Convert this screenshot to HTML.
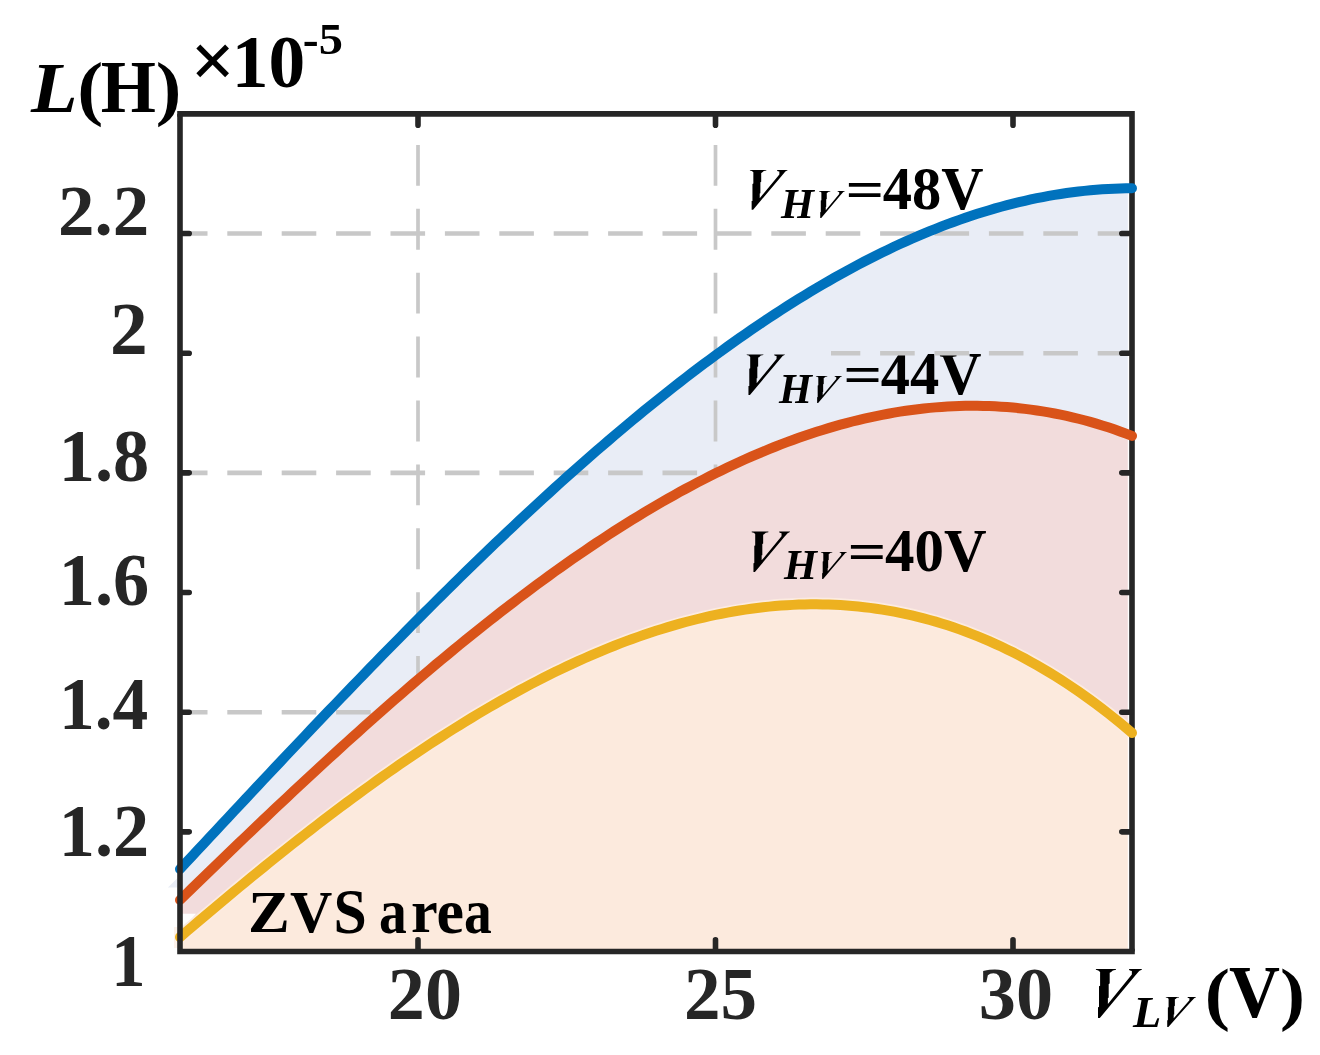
<!DOCTYPE html>
<html><head><meta charset="utf-8"><style>
html,body{margin:0;padding:0;background:#fff;}
svg{display:block;will-change:transform;}
text{font-family:"Liberation Serif", serif;opacity:0.999;}
</style></head><body>
<svg width="1320" height="1055" viewBox="0 0 1320 1055">
<rect width="1320" height="1055" fill="#fff"/>
<clipPath id="cf"><rect x="0" y="0" width="1127.8" height="1055"/></clipPath>
<path d="M180.00,869.07 L185.95,862.69 L191.90,856.30 L197.85,849.92 L203.80,843.55 L209.75,837.17 L215.70,830.79 L221.65,824.42 L227.60,818.06 L233.55,811.69 L239.50,805.33 L245.45,798.98 L251.40,792.63 L257.35,786.29 L263.30,779.95 L269.25,773.62 L275.20,767.30 L281.15,760.98 L287.10,754.68 L293.05,748.38 L299.00,742.10 L304.95,735.82 L310.90,729.55 L316.85,723.30 L322.80,717.05 L328.75,710.82 L334.70,704.60 L340.65,698.39 L346.60,692.20 L352.55,686.02 L358.50,679.86 L364.45,673.71 L370.40,667.57 L376.35,661.45 L382.30,655.35 L388.25,649.27 L394.20,643.20 L400.15,637.15 L406.10,631.12 L412.05,625.10 L418.00,619.11 L423.95,613.14 L429.90,607.19 L435.85,601.25 L441.80,595.34 L447.75,589.46 L453.70,583.59 L459.65,577.75 L465.60,571.93 L471.55,566.13 L477.50,560.36 L483.45,554.62 L489.40,548.89 L495.35,543.20 L501.30,537.53 L507.25,531.89 L513.20,526.28 L519.15,520.69 L525.10,515.13 L531.05,509.60 L537.00,504.10 L542.95,498.64 L548.90,493.20 L554.85,487.79 L560.80,482.41 L566.75,477.07 L572.70,471.75 L578.65,466.48 L584.60,461.23 L590.55,456.02 L596.50,450.84 L602.45,445.70 L608.40,440.59 L614.35,435.52 L620.30,430.48 L626.25,425.48 L632.20,420.52 L638.15,415.60 L644.10,410.72 L650.05,405.87 L656.00,401.06 L661.95,396.30 L667.90,391.57 L673.85,386.89 L679.80,382.24 L685.75,377.64 L691.70,373.08 L697.65,368.56 L703.60,364.09 L709.55,359.66 L715.50,355.28 L721.45,350.94 L727.40,346.64 L733.35,342.39 L739.30,338.19 L745.25,334.04 L751.20,329.93 L757.15,325.87 L763.10,321.86 L769.05,317.89 L775.00,313.98 L780.95,310.11 L786.90,306.30 L792.85,302.54 L798.80,298.83 L804.75,295.17 L810.70,291.56 L816.65,288.01 L822.60,284.50 L828.55,281.06 L834.50,277.66 L840.45,274.33 L846.40,271.04 L852.35,267.82 L858.30,264.65 L864.25,261.53 L870.20,258.48 L876.15,255.48 L882.10,252.54 L888.05,249.66 L894.00,246.84 L899.95,244.07 L905.90,241.37 L911.85,238.73 L917.80,236.15 L923.75,233.63 L929.70,231.18 L935.65,228.79 L941.60,226.46 L947.55,224.19 L953.50,221.99 L959.45,219.85 L965.40,217.78 L971.35,215.78 L977.30,213.84 L983.25,211.97 L989.20,210.16 L995.15,208.42 L1001.10,206.76 L1007.05,205.16 L1013.00,203.62 L1018.95,202.16 L1024.90,200.77 L1030.85,199.45 L1036.80,198.21 L1042.75,197.03 L1048.70,195.92 L1054.65,194.89 L1060.60,193.94 L1066.55,193.05 L1072.50,192.24 L1078.45,191.51 L1084.40,190.85 L1090.35,190.26 L1096.30,189.75 L1102.25,189.32 L1108.20,188.97 L1114.15,188.69 L1120.10,188.49 L1126.05,188.37 L1132.00,188.34 L1132.00,435.87 L1126.05,433.60 L1120.10,431.42 L1114.15,429.33 L1108.20,427.34 L1102.25,425.44 L1096.30,423.63 L1090.35,421.91 L1084.40,420.28 L1078.45,418.74 L1072.50,417.29 L1066.55,415.93 L1060.60,414.66 L1054.65,413.47 L1048.70,412.38 L1042.75,411.36 L1036.80,410.44 L1030.85,409.60 L1024.90,408.85 L1018.95,408.18 L1013.00,407.59 L1007.05,407.09 L1001.10,406.67 L995.15,406.33 L989.20,406.08 L983.25,405.90 L977.30,405.81 L971.35,405.80 L965.40,405.86 L959.45,406.01 L953.50,406.23 L947.55,406.53 L941.60,406.91 L935.65,407.37 L929.70,407.90 L923.75,408.51 L917.80,409.19 L911.85,409.95 L905.90,410.78 L899.95,411.69 L894.00,412.67 L888.05,413.72 L882.10,414.84 L876.15,416.04 L870.20,417.30 L864.25,418.64 L858.30,420.04 L852.35,421.52 L846.40,423.06 L840.45,424.68 L834.50,426.36 L828.55,428.10 L822.60,429.92 L816.65,431.80 L810.70,433.74 L804.75,435.75 L798.80,437.82 L792.85,439.96 L786.90,442.16 L780.95,444.43 L775.00,446.75 L769.05,449.14 L763.10,451.59 L757.15,454.10 L751.20,456.67 L745.25,459.30 L739.30,461.98 L733.35,464.73 L727.40,467.53 L721.45,470.40 L715.50,473.31 L709.55,476.29 L703.60,479.32 L697.65,482.40 L691.70,485.54 L685.75,488.74 L679.80,491.98 L673.85,495.28 L667.90,498.63 L661.95,502.04 L656.00,505.49 L650.05,509.00 L644.10,512.56 L638.15,516.16 L632.20,519.82 L626.25,523.52 L620.30,527.27 L614.35,531.07 L608.40,534.92 L602.45,538.81 L596.50,542.75 L590.55,546.74 L584.60,550.77 L578.65,554.84 L572.70,558.96 L566.75,563.11 L560.80,567.32 L554.85,571.56 L548.90,575.85 L542.95,580.18 L537.00,584.54 L531.05,588.95 L525.10,593.40 L519.15,597.88 L513.20,602.41 L507.25,606.97 L501.30,611.57 L495.35,616.20 L489.40,620.87 L483.45,625.58 L477.50,630.32 L471.55,635.10 L465.60,639.91 L459.65,644.75 L453.70,649.63 L447.75,654.54 L441.80,659.48 L435.85,664.45 L429.90,669.45 L423.95,674.48 L418.00,679.55 L412.05,684.64 L406.10,689.76 L400.15,694.90 L394.20,700.08 L388.25,705.28 L382.30,710.51 L376.35,715.76 L370.40,721.04 L364.45,726.34 L358.50,731.67 L352.55,737.02 L346.60,742.40 L340.65,747.79 L334.70,753.21 L328.75,758.65 L322.80,764.11 L316.85,769.59 L310.90,775.09 L304.95,780.61 L299.00,786.15 L293.05,791.71 L287.10,797.28 L281.15,802.87 L275.20,808.48 L269.25,814.11 L263.30,819.75 L257.35,825.40 L251.40,831.07 L245.45,836.75 L239.50,842.45 L233.55,848.15 L227.60,853.87 L221.65,859.61 L215.70,865.35 L209.75,871.10 L203.80,876.87 L197.85,882.64 L191.90,888.42 L185.95,894.21 L180.00,900.01 Z" fill="#e9edf6" clip-path="url(#cf)"/>
<path d="M749.92,170.00 L766.36,170.00 L766.36,170.57 L763.82,171.06 L762.10,172.61 L761.20,173.02 L761.20,181.74 L760.39,182.15 L760.39,193.24 L759.73,193.41 L759.73,198.30 L779.36,174.49 L779.36,171.55 L777.72,171.22 L777.07,170.57 L777.07,170.00 L787.62,170.00 L787.62,170.33 L785.33,171.55 L781.81,175.63 L753.11,209.80 L751.64,209.80 L751.64,201.07 L752.45,200.91 L752.45,184.03 L753.35,183.62 L753.35,172.37 L751.88,171.06 L749.92,170.57 Z" fill="#000"/>
<text id="t25" transform="matrix(1.03333 0 0 1.04231 780.900 218.100)" x="0" y="0" font-size="41" font-weight="bold" font-style="italic" fill="#000">H</text>
<path d="M819.04,191.00 L830.29,191.00 L830.29,191.39 L828.56,191.72 L827.38,192.78 L826.77,193.05 L826.77,199.00 L826.21,199.27 L826.21,206.83 L825.76,206.94 L825.76,210.27 L839.19,194.05 L839.19,192.06 L838.07,191.83 L837.62,191.39 L837.62,191.00 L844.84,191.00 L844.84,191.22 L843.28,192.06 L840.87,194.83 L821.23,218.10 L820.22,218.10 L820.22,212.16 L820.78,212.05 L820.78,200.55 L821.39,200.27 L821.39,192.61 L820.39,191.72 L819.04,191.39 Z" fill="#000"/>
<text id="t27" transform="matrix(1.15185 0 0 0.88750 845.444 206.663)" x="0" y="0" font-size="59" font-weight="bold" font-style="normal" fill="#000">=</text>
<text id="t28" transform="matrix(0.99200 0 0 1.02250 882.808 208.778)" x="0" y="0" font-size="59" font-weight="bold" font-style="normal" fill="#000">48V</text>
<path d="M746.72,354.50 L763.37,354.50 L763.37,355.08 L760.80,355.58 L759.06,357.16 L758.15,357.57 L758.15,366.45 L757.32,366.87 L757.32,378.15 L756.66,378.32 L756.66,383.30 L776.55,359.06 L776.55,356.08 L774.89,355.74 L774.23,355.08 L774.23,354.50 L784.92,354.50 L784.92,354.83 L782.60,356.08 L779.03,360.23 L749.95,395.00 L748.46,395.00 L748.46,386.12 L749.29,385.95 L749.29,368.77 L750.20,368.36 L750.20,356.91 L748.71,355.58 L746.72,355.08 Z" fill="#000"/>
<text id="t30" transform="matrix(1.03333 0 0 1.04231 778.900 403.100)" x="0" y="0" font-size="41" font-weight="bold" font-style="italic" fill="#000">H</text>
<path d="M815.94,376.00 L827.28,376.00 L827.28,376.39 L825.53,376.72 L824.35,377.78 L823.73,378.05 L823.73,384.00 L823.16,384.27 L823.16,391.83 L822.71,391.94 L822.71,395.27 L836.25,379.05 L836.25,377.06 L835.12,376.83 L834.67,376.39 L834.67,376.00 L841.94,376.00 L841.94,376.22 L840.36,377.06 L837.94,379.83 L818.14,403.10 L817.13,403.10 L817.13,397.16 L817.69,397.05 L817.69,385.55 L818.31,385.27 L818.31,377.61 L817.30,376.72 L815.94,376.39 Z" fill="#000"/>
<text id="t32" transform="matrix(1.15926 0 0 0.88750 843.322 391.662)" x="0" y="0" font-size="59" font-weight="bold" font-style="normal" fill="#000">=</text>
<text id="t33" transform="matrix(0.99100 0 0 1.02250 880.809 393.778)" x="0" y="0" font-size="59" font-weight="bold" font-style="normal" fill="#000">44V</text>
<clipPath id="c20"><rect x="831" y="340" width="310" height="30"/></clipPath>
<line x1="180" y1="233.54" x2="1132" y2="233.54" stroke="#c8c8c8" stroke-width="4.6" stroke-dasharray="34.6 19.8" stroke-dashoffset="7.1"/>
<line x1="180" y1="353.20" x2="1132" y2="353.20" stroke="#c8c8c8" stroke-width="4.6" stroke-dasharray="34.6 19.8" stroke-dashoffset="7.1" clip-path="url(#c20)"/>
<line x1="180" y1="472.86" x2="1132" y2="472.86" stroke="#c8c8c8" stroke-width="4.6" stroke-dasharray="34.6 19.8" stroke-dashoffset="7.1"/>
<line x1="180" y1="712.18" x2="1132" y2="712.18" stroke="#c8c8c8" stroke-width="4.6" stroke-dasharray="34.6 19.8" stroke-dashoffset="7.1"/>
<line x1="418.00" y1="113.9" x2="418.00" y2="951.5" stroke="#c8c8c8" stroke-width="3.7" stroke-dasharray="40.9 23.0" stroke-dashoffset="32.9"/>
<line x1="715.50" y1="113.9" x2="715.50" y2="951.5" stroke="#c8c8c8" stroke-width="3.7" stroke-dasharray="40.9 23.0" stroke-dashoffset="32.9"/>
<path d="M180.00,900.01 L185.95,894.21 L191.90,888.42 L197.85,882.64 L203.80,876.87 L209.75,871.10 L215.70,865.35 L221.65,859.61 L227.60,853.87 L233.55,848.15 L239.50,842.45 L245.45,836.75 L251.40,831.07 L257.35,825.40 L263.30,819.75 L269.25,814.11 L275.20,808.48 L281.15,802.87 L287.10,797.28 L293.05,791.71 L299.00,786.15 L304.95,780.61 L310.90,775.09 L316.85,769.59 L322.80,764.11 L328.75,758.65 L334.70,753.21 L340.65,747.79 L346.60,742.40 L352.55,737.02 L358.50,731.67 L364.45,726.34 L370.40,721.04 L376.35,715.76 L382.30,710.51 L388.25,705.28 L394.20,700.08 L400.15,694.90 L406.10,689.76 L412.05,684.64 L418.00,679.55 L423.95,674.48 L429.90,669.45 L435.85,664.45 L441.80,659.48 L447.75,654.54 L453.70,649.63 L459.65,644.75 L465.60,639.91 L471.55,635.10 L477.50,630.32 L483.45,625.58 L489.40,620.87 L495.35,616.20 L501.30,611.57 L507.25,606.97 L513.20,602.41 L519.15,597.88 L525.10,593.40 L531.05,588.95 L537.00,584.54 L542.95,580.18 L548.90,575.85 L554.85,571.56 L560.80,567.32 L566.75,563.11 L572.70,558.96 L578.65,554.84 L584.60,550.77 L590.55,546.74 L596.50,542.75 L602.45,538.81 L608.40,534.92 L614.35,531.07 L620.30,527.27 L626.25,523.52 L632.20,519.82 L638.15,516.16 L644.10,512.56 L650.05,509.00 L656.00,505.49 L661.95,502.04 L667.90,498.63 L673.85,495.28 L679.80,491.98 L685.75,488.74 L691.70,485.54 L697.65,482.40 L703.60,479.32 L709.55,476.29 L715.50,473.31 L721.45,470.40 L727.40,467.53 L733.35,464.73 L739.30,461.98 L745.25,459.30 L751.20,456.67 L757.15,454.10 L763.10,451.59 L769.05,449.14 L775.00,446.75 L780.95,444.43 L786.90,442.16 L792.85,439.96 L798.80,437.82 L804.75,435.75 L810.70,433.74 L816.65,431.80 L822.60,429.92 L828.55,428.10 L834.50,426.36 L840.45,424.68 L846.40,423.06 L852.35,421.52 L858.30,420.04 L864.25,418.64 L870.20,417.30 L876.15,416.04 L882.10,414.84 L888.05,413.72 L894.00,412.67 L899.95,411.69 L905.90,410.78 L911.85,409.95 L917.80,409.19 L923.75,408.51 L929.70,407.90 L935.65,407.37 L941.60,406.91 L947.55,406.53 L953.50,406.23 L959.45,406.01 L965.40,405.86 L971.35,405.80 L977.30,405.81 L983.25,405.90 L989.20,406.08 L995.15,406.33 L1001.10,406.67 L1007.05,407.09 L1013.00,407.59 L1018.95,408.18 L1024.90,408.85 L1030.85,409.60 L1036.80,410.44 L1042.75,411.36 L1048.70,412.38 L1054.65,413.47 L1060.60,414.66 L1066.55,415.93 L1072.50,417.29 L1078.45,418.74 L1084.40,420.28 L1090.35,421.91 L1096.30,423.63 L1102.25,425.44 L1108.20,427.34 L1114.15,429.33 L1120.10,431.42 L1126.05,433.60 L1132.00,435.87 L1132.00,732.92 L1126.05,727.87 L1120.10,722.93 L1114.15,718.10 L1108.20,713.39 L1102.25,708.78 L1096.30,704.28 L1090.35,699.88 L1084.40,695.60 L1078.45,691.42 L1072.50,687.35 L1066.55,683.38 L1060.60,679.52 L1054.65,675.77 L1048.70,672.12 L1042.75,668.57 L1036.80,665.12 L1030.85,661.78 L1024.90,658.53 L1018.95,655.39 L1013.00,652.35 L1007.05,649.41 L1001.10,646.57 L995.15,643.82 L989.20,641.18 L983.25,638.63 L977.30,636.17 L971.35,633.82 L965.40,631.56 L959.45,629.39 L953.50,627.32 L947.55,625.34 L941.60,623.46 L935.65,621.67 L929.70,619.97 L923.75,618.36 L917.80,616.84 L911.85,615.41 L905.90,614.08 L899.95,612.83 L894.00,611.67 L888.05,610.59 L882.10,609.61 L876.15,608.71 L870.20,607.89 L864.25,607.17 L858.30,606.52 L852.35,605.96 L846.40,605.49 L840.45,605.10 L834.50,604.79 L828.55,604.56 L822.60,604.41 L816.65,604.34 L810.70,604.36 L804.75,604.45 L798.80,604.62 L792.85,604.87 L786.90,605.20 L780.95,605.60 L775.00,606.08 L769.05,606.64 L763.10,607.27 L757.15,607.98 L751.20,608.76 L745.25,609.61 L739.30,610.54 L733.35,611.53 L727.40,612.60 L721.45,613.74 L715.50,614.96 L709.55,616.24 L703.60,617.59 L697.65,619.01 L691.70,620.49 L685.75,622.05 L679.80,623.67 L673.85,625.36 L667.90,627.11 L661.95,628.93 L656.00,630.81 L650.05,632.76 L644.10,634.77 L638.15,636.84 L632.20,638.97 L626.25,641.17 L620.30,643.43 L614.35,645.74 L608.40,648.12 L602.45,650.55 L596.50,653.05 L590.55,655.60 L584.60,658.21 L578.65,660.87 L572.70,663.60 L566.75,666.37 L560.80,669.20 L554.85,672.09 L548.90,675.03 L542.95,678.02 L537.00,681.07 L531.05,684.17 L525.10,687.31 L519.15,690.51 L513.20,693.76 L507.25,697.06 L501.30,700.41 L495.35,703.80 L489.40,707.25 L483.45,710.74 L477.50,714.27 L471.55,717.86 L465.60,721.48 L459.65,725.16 L453.70,728.87 L447.75,732.63 L441.80,736.44 L435.85,740.28 L429.90,744.17 L423.95,748.10 L418.00,752.07 L412.05,756.08 L406.10,760.12 L400.15,764.21 L394.20,768.33 L388.25,772.50 L382.30,776.70 L376.35,780.93 L370.40,785.20 L364.45,789.51 L358.50,793.85 L352.55,798.22 L346.60,802.63 L340.65,807.07 L334.70,811.54 L328.75,816.05 L322.80,820.58 L316.85,825.15 L310.90,829.74 L304.95,834.37 L299.00,839.02 L293.05,843.70 L287.10,848.41 L281.15,853.14 L275.20,857.90 L269.25,862.69 L263.30,867.50 L257.35,872.34 L251.40,877.20 L245.45,882.08 L239.50,886.98 L233.55,891.91 L227.60,896.86 L221.65,901.83 L215.70,906.82 L209.75,911.83 L203.80,916.85 L197.85,921.90 L191.90,926.96 L185.95,932.04 L180.00,937.14 Z" fill="#f2dcdc" clip-path="url(#cf)"/>
<path d="M182,913.7 L196,913.7 L182,930 Z" fill="#fff"/>
<path d="M180.00,937.14 L185.95,932.04 L191.90,926.96 L197.85,921.90 L203.80,916.85 L209.75,911.83 L215.70,906.82 L221.65,901.83 L227.60,896.86 L233.55,891.91 L239.50,886.98 L245.45,882.08 L251.40,877.20 L257.35,872.34 L263.30,867.50 L269.25,862.69 L275.20,857.90 L281.15,853.14 L287.10,848.41 L293.05,843.70 L299.00,839.02 L304.95,834.37 L310.90,829.74 L316.85,825.15 L322.80,820.58 L328.75,816.05 L334.70,811.54 L340.65,807.07 L346.60,802.63 L352.55,798.22 L358.50,793.85 L364.45,789.51 L370.40,785.20 L376.35,780.93 L382.30,776.70 L388.25,772.50 L394.20,768.33 L400.15,764.21 L406.10,760.12 L412.05,756.08 L418.00,752.07 L423.95,748.10 L429.90,744.17 L435.85,740.28 L441.80,736.44 L447.75,732.63 L453.70,728.87 L459.65,725.16 L465.60,721.48 L471.55,717.86 L477.50,714.27 L483.45,710.74 L489.40,707.25 L495.35,703.80 L501.30,700.41 L507.25,697.06 L513.20,693.76 L519.15,690.51 L525.10,687.31 L531.05,684.17 L537.00,681.07 L542.95,678.02 L548.90,675.03 L554.85,672.09 L560.80,669.20 L566.75,666.37 L572.70,663.60 L578.65,660.87 L584.60,658.21 L590.55,655.60 L596.50,653.05 L602.45,650.55 L608.40,648.12 L614.35,645.74 L620.30,643.43 L626.25,641.17 L632.20,638.97 L638.15,636.84 L644.10,634.77 L650.05,632.76 L656.00,630.81 L661.95,628.93 L667.90,627.11 L673.85,625.36 L679.80,623.67 L685.75,622.05 L691.70,620.49 L697.65,619.01 L703.60,617.59 L709.55,616.24 L715.50,614.96 L721.45,613.74 L727.40,612.60 L733.35,611.53 L739.30,610.54 L745.25,609.61 L751.20,608.76 L757.15,607.98 L763.10,607.27 L769.05,606.64 L775.00,606.08 L780.95,605.60 L786.90,605.20 L792.85,604.87 L798.80,604.62 L804.75,604.45 L810.70,604.36 L816.65,604.34 L822.60,604.41 L828.55,604.56 L834.50,604.79 L840.45,605.10 L846.40,605.49 L852.35,605.96 L858.30,606.52 L864.25,607.17 L870.20,607.89 L876.15,608.71 L882.10,609.61 L888.05,610.59 L894.00,611.67 L899.95,612.83 L905.90,614.08 L911.85,615.41 L917.80,616.84 L923.75,618.36 L929.70,619.97 L935.65,621.67 L941.60,623.46 L947.55,625.34 L953.50,627.32 L959.45,629.39 L965.40,631.56 L971.35,633.82 L977.30,636.17 L983.25,638.63 L989.20,641.18 L995.15,643.82 L1001.10,646.57 L1007.05,649.41 L1013.00,652.35 L1018.95,655.39 L1024.90,658.53 L1030.85,661.78 L1036.80,665.12 L1042.75,668.57 L1048.70,672.12 L1054.65,675.77 L1060.60,679.52 L1066.55,683.38 L1072.50,687.35 L1078.45,691.42 L1084.40,695.60 L1090.35,699.88 L1096.30,704.28 L1102.25,708.78 L1108.20,713.39 L1114.15,718.10 L1120.10,722.93 L1126.05,727.87 L1132.00,732.92 L1132.00,951.50 L180.00,951.50 Z" fill="#fceadd" clip-path="url(#cf)"/>
<clipPath id="cpl"><rect x="177" y="110" width="955" height="842"/></clipPath>
<path d="M180.00,937.14 L185.95,932.04 L191.90,926.96 L197.85,921.90 L203.80,916.85 L209.75,911.83 L215.70,906.82 L221.65,901.83 L227.60,896.86 L233.55,891.91 L239.50,886.98 L245.45,882.08 L251.40,877.20 L257.35,872.34 L263.30,867.50 L269.25,862.69 L275.20,857.90 L281.15,853.14 L287.10,848.41 L293.05,843.70 L299.00,839.02 L304.95,834.37 L310.90,829.74 L316.85,825.15 L322.80,820.58 L328.75,816.05 L334.70,811.54 L340.65,807.07 L346.60,802.63 L352.55,798.22 L358.50,793.85 L364.45,789.51 L370.40,785.20 L376.35,780.93 L382.30,776.70 L388.25,772.50 L394.20,768.33 L400.15,764.21 L406.10,760.12 L412.05,756.08 L418.00,752.07 L423.95,748.10 L429.90,744.17 L435.85,740.28 L441.80,736.44 L447.75,732.63 L453.70,728.87 L459.65,725.16 L465.60,721.48 L471.55,717.86 L477.50,714.27 L483.45,710.74 L489.40,707.25 L495.35,703.80 L501.30,700.41 L507.25,697.06 L513.20,693.76 L519.15,690.51 L525.10,687.31 L531.05,684.17 L537.00,681.07 L542.95,678.02 L548.90,675.03 L554.85,672.09 L560.80,669.20 L566.75,666.37 L572.70,663.60 L578.65,660.87 L584.60,658.21 L590.55,655.60 L596.50,653.05 L602.45,650.55 L608.40,648.12 L614.35,645.74 L620.30,643.43 L626.25,641.17 L632.20,638.97 L638.15,636.84 L644.10,634.77 L650.05,632.76 L656.00,630.81 L661.95,628.93 L667.90,627.11 L673.85,625.36 L679.80,623.67 L685.75,622.05 L691.70,620.49 L697.65,619.01 L703.60,617.59 L709.55,616.24 L715.50,614.96 L721.45,613.74 L727.40,612.60 L733.35,611.53 L739.30,610.54 L745.25,609.61 L751.20,608.76 L757.15,607.98 L763.10,607.27 L769.05,606.64 L775.00,606.08 L780.95,605.60 L786.90,605.20 L792.85,604.87 L798.80,604.62 L804.75,604.45 L810.70,604.36 L816.65,604.34 L822.60,604.41 L828.55,604.56 L834.50,604.79 L840.45,605.10 L846.40,605.49 L852.35,605.96 L858.30,606.52 L864.25,607.17 L870.20,607.89 L876.15,608.71 L882.10,609.61 L888.05,610.59 L894.00,611.67 L899.95,612.83 L905.90,614.08 L911.85,615.41 L917.80,616.84 L923.75,618.36 L929.70,619.97 L935.65,621.67 L941.60,623.46 L947.55,625.34 L953.50,627.32 L959.45,629.39 L965.40,631.56 L971.35,633.82 L977.30,636.17 L983.25,638.63 L989.20,641.18 L995.15,643.82 L1001.10,646.57 L1007.05,649.41 L1013.00,652.35 L1018.95,655.39 L1024.90,658.53 L1030.85,661.78 L1036.80,665.12 L1042.75,668.57 L1048.70,672.12 L1054.65,675.77 L1060.60,679.52 L1066.55,683.38 L1072.50,687.35 L1078.45,691.42 L1084.40,695.60 L1090.35,699.88 L1096.30,704.28 L1102.25,708.78 L1108.20,713.39 L1114.15,718.10 L1120.10,722.93 L1126.05,727.87 L1132.00,732.92" fill="none" stroke="#fcebe0" stroke-width="13.5" clip-path="url(#cpl)"/>
<path d="M167.9,887.5 L177.5,878 L177.5,887.5 Z" fill="#e9edf6"/>
<rect x="174" y="927" width="3.5" height="21" fill="#fdf2ea"/>
<path d="M177.2,113.9 L1132,113.9 L1132,951.5" fill="none" stroke="#262626" stroke-width="5.6" stroke-linejoin="miter"/>
<path d="M181,831.84 L189.2,831.84 M1131,831.84 L1121.8,831.84 M181,712.18 L189.2,712.18 M1131,712.18 L1121.8,712.18 M181,592.52 L189.2,592.52 M1131,592.52 L1121.8,592.52 M181,472.86 L189.2,472.86 M1131,472.86 L1121.8,472.86 M181,353.20 L189.2,353.20 M1131,353.20 L1121.8,353.20 M181,233.54 L189.2,233.54 M1131,233.54 L1121.8,233.54 M418.00,950.5 L418.00,939.8 M418.00,115 L418.00,125.2 M715.50,950.5 L715.50,939.8 M715.50,115 L715.50,125.2 M1013.00,950.5 L1013.00,939.8 M1013.00,115 L1013.00,125.2" stroke="#262626" stroke-width="5.6" stroke-linecap="round" fill="none"/>
<path d="M180.00,937.14 L185.95,932.04 L191.90,926.96 L197.85,921.90 L203.80,916.85 L209.75,911.83 L215.70,906.82 L221.65,901.83 L227.60,896.86 L233.55,891.91 L239.50,886.98 L245.45,882.08 L251.40,877.20 L257.35,872.34 L263.30,867.50 L269.25,862.69 L275.20,857.90 L281.15,853.14 L287.10,848.41 L293.05,843.70 L299.00,839.02 L304.95,834.37 L310.90,829.74 L316.85,825.15 L322.80,820.58 L328.75,816.05 L334.70,811.54 L340.65,807.07 L346.60,802.63 L352.55,798.22 L358.50,793.85 L364.45,789.51 L370.40,785.20 L376.35,780.93 L382.30,776.70 L388.25,772.50 L394.20,768.33 L400.15,764.21 L406.10,760.12 L412.05,756.08 L418.00,752.07 L423.95,748.10 L429.90,744.17 L435.85,740.28 L441.80,736.44 L447.75,732.63 L453.70,728.87 L459.65,725.16 L465.60,721.48 L471.55,717.86 L477.50,714.27 L483.45,710.74 L489.40,707.25 L495.35,703.80 L501.30,700.41 L507.25,697.06 L513.20,693.76 L519.15,690.51 L525.10,687.31 L531.05,684.17 L537.00,681.07 L542.95,678.02 L548.90,675.03 L554.85,672.09 L560.80,669.20 L566.75,666.37 L572.70,663.60 L578.65,660.87 L584.60,658.21 L590.55,655.60 L596.50,653.05 L602.45,650.55 L608.40,648.12 L614.35,645.74 L620.30,643.43 L626.25,641.17 L632.20,638.97 L638.15,636.84 L644.10,634.77 L650.05,632.76 L656.00,630.81 L661.95,628.93 L667.90,627.11 L673.85,625.36 L679.80,623.67 L685.75,622.05 L691.70,620.49 L697.65,619.01 L703.60,617.59 L709.55,616.24 L715.50,614.96 L721.45,613.74 L727.40,612.60 L733.35,611.53 L739.30,610.54 L745.25,609.61 L751.20,608.76 L757.15,607.98 L763.10,607.27 L769.05,606.64 L775.00,606.08 L780.95,605.60 L786.90,605.20 L792.85,604.87 L798.80,604.62 L804.75,604.45 L810.70,604.36 L816.65,604.34 L822.60,604.41 L828.55,604.56 L834.50,604.79 L840.45,605.10 L846.40,605.49 L852.35,605.96 L858.30,606.52 L864.25,607.17 L870.20,607.89 L876.15,608.71 L882.10,609.61 L888.05,610.59 L894.00,611.67 L899.95,612.83 L905.90,614.08 L911.85,615.41 L917.80,616.84 L923.75,618.36 L929.70,619.97 L935.65,621.67 L941.60,623.46 L947.55,625.34 L953.50,627.32 L959.45,629.39 L965.40,631.56 L971.35,633.82 L977.30,636.17 L983.25,638.63 L989.20,641.18 L995.15,643.82 L1001.10,646.57 L1007.05,649.41 L1013.00,652.35 L1018.95,655.39 L1024.90,658.53 L1030.85,661.78 L1036.80,665.12 L1042.75,668.57 L1048.70,672.12 L1054.65,675.77 L1060.60,679.52 L1066.55,683.38 L1072.50,687.35 L1078.45,691.42 L1084.40,695.60 L1090.35,699.88 L1096.30,704.28 L1102.25,708.78 L1108.20,713.39 L1114.15,718.10 L1120.10,722.93 L1126.05,727.87 L1132.00,732.92" fill="none" stroke="#edb120" stroke-width="10" stroke-linecap="round" stroke-linejoin="round"/>
<path d="M180.00,900.01 L185.95,894.21 L191.90,888.42 L197.85,882.64 L203.80,876.87 L209.75,871.10 L215.70,865.35 L221.65,859.61 L227.60,853.87 L233.55,848.15 L239.50,842.45 L245.45,836.75 L251.40,831.07 L257.35,825.40 L263.30,819.75 L269.25,814.11 L275.20,808.48 L281.15,802.87 L287.10,797.28 L293.05,791.71 L299.00,786.15 L304.95,780.61 L310.90,775.09 L316.85,769.59 L322.80,764.11 L328.75,758.65 L334.70,753.21 L340.65,747.79 L346.60,742.40 L352.55,737.02 L358.50,731.67 L364.45,726.34 L370.40,721.04 L376.35,715.76 L382.30,710.51 L388.25,705.28 L394.20,700.08 L400.15,694.90 L406.10,689.76 L412.05,684.64 L418.00,679.55 L423.95,674.48 L429.90,669.45 L435.85,664.45 L441.80,659.48 L447.75,654.54 L453.70,649.63 L459.65,644.75 L465.60,639.91 L471.55,635.10 L477.50,630.32 L483.45,625.58 L489.40,620.87 L495.35,616.20 L501.30,611.57 L507.25,606.97 L513.20,602.41 L519.15,597.88 L525.10,593.40 L531.05,588.95 L537.00,584.54 L542.95,580.18 L548.90,575.85 L554.85,571.56 L560.80,567.32 L566.75,563.11 L572.70,558.96 L578.65,554.84 L584.60,550.77 L590.55,546.74 L596.50,542.75 L602.45,538.81 L608.40,534.92 L614.35,531.07 L620.30,527.27 L626.25,523.52 L632.20,519.82 L638.15,516.16 L644.10,512.56 L650.05,509.00 L656.00,505.49 L661.95,502.04 L667.90,498.63 L673.85,495.28 L679.80,491.98 L685.75,488.74 L691.70,485.54 L697.65,482.40 L703.60,479.32 L709.55,476.29 L715.50,473.31 L721.45,470.40 L727.40,467.53 L733.35,464.73 L739.30,461.98 L745.25,459.30 L751.20,456.67 L757.15,454.10 L763.10,451.59 L769.05,449.14 L775.00,446.75 L780.95,444.43 L786.90,442.16 L792.85,439.96 L798.80,437.82 L804.75,435.75 L810.70,433.74 L816.65,431.80 L822.60,429.92 L828.55,428.10 L834.50,426.36 L840.45,424.68 L846.40,423.06 L852.35,421.52 L858.30,420.04 L864.25,418.64 L870.20,417.30 L876.15,416.04 L882.10,414.84 L888.05,413.72 L894.00,412.67 L899.95,411.69 L905.90,410.78 L911.85,409.95 L917.80,409.19 L923.75,408.51 L929.70,407.90 L935.65,407.37 L941.60,406.91 L947.55,406.53 L953.50,406.23 L959.45,406.01 L965.40,405.86 L971.35,405.80 L977.30,405.81 L983.25,405.90 L989.20,406.08 L995.15,406.33 L1001.10,406.67 L1007.05,407.09 L1013.00,407.59 L1018.95,408.18 L1024.90,408.85 L1030.85,409.60 L1036.80,410.44 L1042.75,411.36 L1048.70,412.38 L1054.65,413.47 L1060.60,414.66 L1066.55,415.93 L1072.50,417.29 L1078.45,418.74 L1084.40,420.28 L1090.35,421.91 L1096.30,423.63 L1102.25,425.44 L1108.20,427.34 L1114.15,429.33 L1120.10,431.42 L1126.05,433.60 L1132.00,435.87" fill="none" stroke="#d95319" stroke-width="10" stroke-linecap="round" stroke-linejoin="round"/>
<path d="M180.00,869.07 L185.95,862.69 L191.90,856.30 L197.85,849.92 L203.80,843.55 L209.75,837.17 L215.70,830.79 L221.65,824.42 L227.60,818.06 L233.55,811.69 L239.50,805.33 L245.45,798.98 L251.40,792.63 L257.35,786.29 L263.30,779.95 L269.25,773.62 L275.20,767.30 L281.15,760.98 L287.10,754.68 L293.05,748.38 L299.00,742.10 L304.95,735.82 L310.90,729.55 L316.85,723.30 L322.80,717.05 L328.75,710.82 L334.70,704.60 L340.65,698.39 L346.60,692.20 L352.55,686.02 L358.50,679.86 L364.45,673.71 L370.40,667.57 L376.35,661.45 L382.30,655.35 L388.25,649.27 L394.20,643.20 L400.15,637.15 L406.10,631.12 L412.05,625.10 L418.00,619.11 L423.95,613.14 L429.90,607.19 L435.85,601.25 L441.80,595.34 L447.75,589.46 L453.70,583.59 L459.65,577.75 L465.60,571.93 L471.55,566.13 L477.50,560.36 L483.45,554.62 L489.40,548.89 L495.35,543.20 L501.30,537.53 L507.25,531.89 L513.20,526.28 L519.15,520.69 L525.10,515.13 L531.05,509.60 L537.00,504.10 L542.95,498.64 L548.90,493.20 L554.85,487.79 L560.80,482.41 L566.75,477.07 L572.70,471.75 L578.65,466.48 L584.60,461.23 L590.55,456.02 L596.50,450.84 L602.45,445.70 L608.40,440.59 L614.35,435.52 L620.30,430.48 L626.25,425.48 L632.20,420.52 L638.15,415.60 L644.10,410.72 L650.05,405.87 L656.00,401.06 L661.95,396.30 L667.90,391.57 L673.85,386.89 L679.80,382.24 L685.75,377.64 L691.70,373.08 L697.65,368.56 L703.60,364.09 L709.55,359.66 L715.50,355.28 L721.45,350.94 L727.40,346.64 L733.35,342.39 L739.30,338.19 L745.25,334.04 L751.20,329.93 L757.15,325.87 L763.10,321.86 L769.05,317.89 L775.00,313.98 L780.95,310.11 L786.90,306.30 L792.85,302.54 L798.80,298.83 L804.75,295.17 L810.70,291.56 L816.65,288.01 L822.60,284.50 L828.55,281.06 L834.50,277.66 L840.45,274.33 L846.40,271.04 L852.35,267.82 L858.30,264.65 L864.25,261.53 L870.20,258.48 L876.15,255.48 L882.10,252.54 L888.05,249.66 L894.00,246.84 L899.95,244.07 L905.90,241.37 L911.85,238.73 L917.80,236.15 L923.75,233.63 L929.70,231.18 L935.65,228.79 L941.60,226.46 L947.55,224.19 L953.50,221.99 L959.45,219.85 L965.40,217.78 L971.35,215.78 L977.30,213.84 L983.25,211.97 L989.20,210.16 L995.15,208.42 L1001.10,206.76 L1007.05,205.16 L1013.00,203.62 L1018.95,202.16 L1024.90,200.77 L1030.85,199.45 L1036.80,198.21 L1042.75,197.03 L1048.70,195.92 L1054.65,194.89 L1060.60,193.94 L1066.55,193.05 L1072.50,192.24 L1078.45,191.51 L1084.40,190.85 L1090.35,190.26 L1096.30,189.75 L1102.25,189.32 L1108.20,188.97 L1114.15,188.69 L1120.10,188.49 L1126.05,188.37 L1132.00,188.34" fill="none" stroke="#0072bd" stroke-width="10" stroke-linecap="round" stroke-linejoin="round"/>
<path d="M180,113.9 L180,951.5 L1134.8,951.5" fill="none" stroke="#262626" stroke-width="5.6" stroke-linejoin="miter"/>
<text id="t0" transform="matrix(1.00000 0 0 0.99592 58.000 234.800)" x="0" y="0" font-size="73" font-weight="bold" font-style="normal" fill="#262626">2.2</text>
<text id="t1" transform="matrix(1.03333 0 0 1.00000 109.900 354.000)" x="0" y="0" font-size="73" font-weight="bold" font-style="normal" fill="#262626">2</text>
<text id="t2" transform="matrix(0.99036 0 0 1.02041 58.858 480.800)" x="0" y="0" font-size="73" font-weight="bold" font-style="normal" fill="#262626">1.8</text>
<text id="t3" transform="matrix(0.99036 0 0 1.02041 58.858 604.800)" x="0" y="0" font-size="73" font-weight="bold" font-style="normal" fill="#262626">1.6</text>
<text id="t4" transform="matrix(0.97857 0 0 1.00408 58.929 729.000)" x="0" y="0" font-size="73" font-weight="bold" font-style="normal" fill="#262626">1.4</text>
<text id="t5" transform="matrix(0.99024 0 0 1.00204 58.859 855.900)" x="0" y="0" font-size="73" font-weight="bold" font-style="normal" fill="#262626">1.2</text>
<text id="t6" transform="matrix(0.93704 0 0 1.00408 111.278 986.000)" x="0" y="0" font-size="73" font-weight="bold" font-style="normal" fill="#262626">1</text>
<text id="t7" transform="matrix(1.01493 0 0 1.02041 387.855 1018.900)" x="0" y="0" font-size="73" font-weight="bold" font-style="normal" fill="#262626">20</text>
<text id="t8" transform="matrix(1.00149 0 0 1.02041 683.996 1018.900)" x="0" y="0" font-size="73" font-weight="bold" font-style="normal" fill="#262626">25</text>
<text id="t9" transform="matrix(1.01791 0 0 1.02041 978.746 1018.900)" x="0" y="0" font-size="73" font-weight="bold" font-style="normal" fill="#262626">30</text>
<text id="t10" transform="matrix(1.04390 0 0 0.97755 31.000 111.800)" x="0" y="0" font-size="73" font-weight="bold" font-style="italic" fill="#000">L</text>
<text id="t11" transform="matrix(1.08421 0 0 0.98615 77.247 112.208)" x="0" y="0" font-size="72" font-weight="bold" font-style="normal" fill="#000">(</text>
<text id="t12" transform="matrix(0.98519 0 0 1.01915 100.815 111.800)" x="0" y="0" font-size="72" font-weight="bold" font-style="normal" fill="#000">H</text>
<text id="t13" transform="matrix(1.06842 0 0 0.98615 155.663 112.208)" x="0" y="0" font-size="72" font-weight="bold" font-style="normal" fill="#000">)</text>
<text id="t14" transform="matrix(1.03226 0 0 1.03871 190.606 87.387)" x="0" y="0" font-size="76" font-weight="bold" font-style="normal" fill="#000">×</text>
<text id="t15" transform="matrix(1.00625 0 0 1.02449 231.763 87.000)" x="0" y="0" font-size="73" font-weight="bold" font-style="normal" fill="#000">10</text>
<text id="t16" transform="matrix(1.01667 0 0 1.02500 302.767 55.225)" x="0" y="0" font-size="47" font-weight="bold" font-style="normal" fill="#000">-</text>
<text id="t17" transform="matrix(1.03000 0 0 0.96452 318.840 53.800)" x="0" y="0" font-size="47" font-weight="bold" font-style="normal" fill="#000">5</text>
<path d="M1095.90,969.10 L1115.98,969.10 L1115.98,969.80 L1112.88,970.40 L1110.78,972.31 L1109.69,972.81 L1109.69,983.54 L1108.69,984.04 L1108.69,997.68 L1107.89,997.88 L1107.89,1003.89 L1131.86,974.61 L1131.86,971.01 L1129.86,970.60 L1129.06,969.80 L1129.06,969.10 L1141.95,969.10 L1141.95,969.50 L1139.15,971.01 L1134.86,976.02 L1099.80,1018.03 L1098.00,1018.03 L1098.00,1007.30 L1099.00,1007.10 L1099.00,986.35 L1100.10,985.84 L1100.10,972.01 L1098.30,970.40 L1095.90,969.80 Z" fill="#000"/>
<text id="t19" transform="matrix(1.00769 0 0 0.96452 1132.900 1026.900)" x="0" y="0" font-size="46" font-weight="bold" font-style="italic" fill="#000">L</text>
<path d="M1165.83,997.00 L1179.00,997.00 L1179.00,997.43 L1176.97,997.80 L1175.60,998.96 L1174.87,999.27 L1174.87,1005.82 L1174.22,1006.13 L1174.22,1014.46 L1173.70,1014.58 L1173.70,1018.26 L1189.42,1000.37 L1189.42,998.16 L1188.11,997.92 L1187.58,997.43 L1187.58,997.00 L1196.03,997.00 L1196.03,997.25 L1194.20,998.16 L1191.38,1001.23 L1168.39,1026.90 L1167.21,1026.90 L1167.21,1020.34 L1167.87,1020.22 L1167.87,1007.54 L1168.59,1007.23 L1168.59,998.78 L1167.41,997.80 L1165.83,997.43 Z" fill="#000"/>
<text id="t21" transform="matrix(1.05263 0 0 0.98154 1204.742 1016.977)" x="0" y="0" font-size="72" font-weight="bold" font-style="normal" fill="#000">(</text>
<text id="t22" transform="matrix(0.98000 0 0 1.02396 1229.020 1016.876)" x="0" y="0" font-size="72" font-weight="bold" font-style="normal" fill="#000">V</text>
<text id="t23" transform="matrix(1.04211 0 0 0.98154 1279.916 1016.977)" x="0" y="0" font-size="72" font-weight="bold" font-style="normal" fill="#000">)</text>
<path d="M751.72,531.60 L768.37,531.60 L768.37,532.18 L765.80,532.68 L764.06,534.25 L763.15,534.66 L763.15,543.52 L762.32,543.94 L762.32,555.19 L761.66,555.36 L761.66,560.33 L781.55,536.15 L781.55,533.17 L779.89,532.84 L779.23,532.18 L779.23,531.60 L789.92,531.60 L789.92,531.93 L787.60,533.17 L784.03,537.31 L754.95,572.00 L753.46,572.00 L753.46,563.14 L754.29,562.98 L754.29,545.84 L755.20,545.43 L755.20,534.00 L753.71,532.68 L751.72,532.18 Z" fill="#000"/>
<text id="t35" transform="matrix(1.03333 0 0 1.04231 783.900 579.100)" x="0" y="0" font-size="41" font-weight="bold" font-style="italic" fill="#000">H</text>
<path d="M820.94,552.00 L832.28,552.00 L832.28,552.39 L830.53,552.72 L829.35,553.78 L828.73,554.05 L828.73,560.00 L828.16,560.27 L828.16,567.83 L827.71,567.94 L827.71,571.27 L841.25,555.05 L841.25,553.06 L840.12,552.83 L839.67,552.39 L839.67,552.00 L846.94,552.00 L846.94,552.22 L845.36,553.06 L842.94,555.83 L823.14,579.10 L822.13,579.10 L822.13,573.16 L822.69,573.05 L822.69,561.55 L823.31,561.27 L823.31,553.61 L822.30,552.72 L820.94,552.39 Z" fill="#000"/>
<text id="t37" transform="matrix(1.15926 0 0 0.88750 847.522 568.763)" x="0" y="0" font-size="59" font-weight="bold" font-style="normal" fill="#000">=</text>
<text id="t38" transform="matrix(1.00000 0 0 1.02500 885.000 570.975)" x="0" y="0" font-size="59" font-weight="bold" font-style="normal" fill="#000">40V</text>
<text id="t39" transform="matrix(1.04412 0 0 0.99744 248.068 931.900)" x="0" y="0" font-size="60" font-weight="bold" font-style="normal" fill="#000">Z</text>
<text id="t40" transform="matrix(0.97619 0 0 0.99500 289.924 931.805)" x="0" y="0" font-size="60" font-weight="bold" font-style="normal" fill="#000">V</text>
<text id="t41" transform="matrix(0.99643 0 0 1.05641 333.411 932.800)" x="0" y="0" font-size="60" font-weight="bold" font-style="normal" fill="#000">S</text>
<text id="t42" transform="matrix(0.92593 0 0 1.05556 379.048 933.000)" x="0" y="0" font-size="60" font-weight="bold" font-style="normal" fill="#000">a</text>
<text id="t43" transform="matrix(1.00435 0 0 1.00370 410.991 932.100)" x="0" y="0" font-size="60" font-weight="bold" font-style="normal" fill="#000">r</text>
<text id="t44" transform="matrix(1.03043 0 0 1.05556 436.539 933.000)" x="0" y="0" font-size="60" font-weight="bold" font-style="normal" fill="#000">e</text>
<text id="t45" transform="matrix(0.92593 0 0 1.05556 464.048 933.000)" x="0" y="0" font-size="60" font-weight="bold" font-style="normal" fill="#000">a</text>
</svg>
</body></html>
